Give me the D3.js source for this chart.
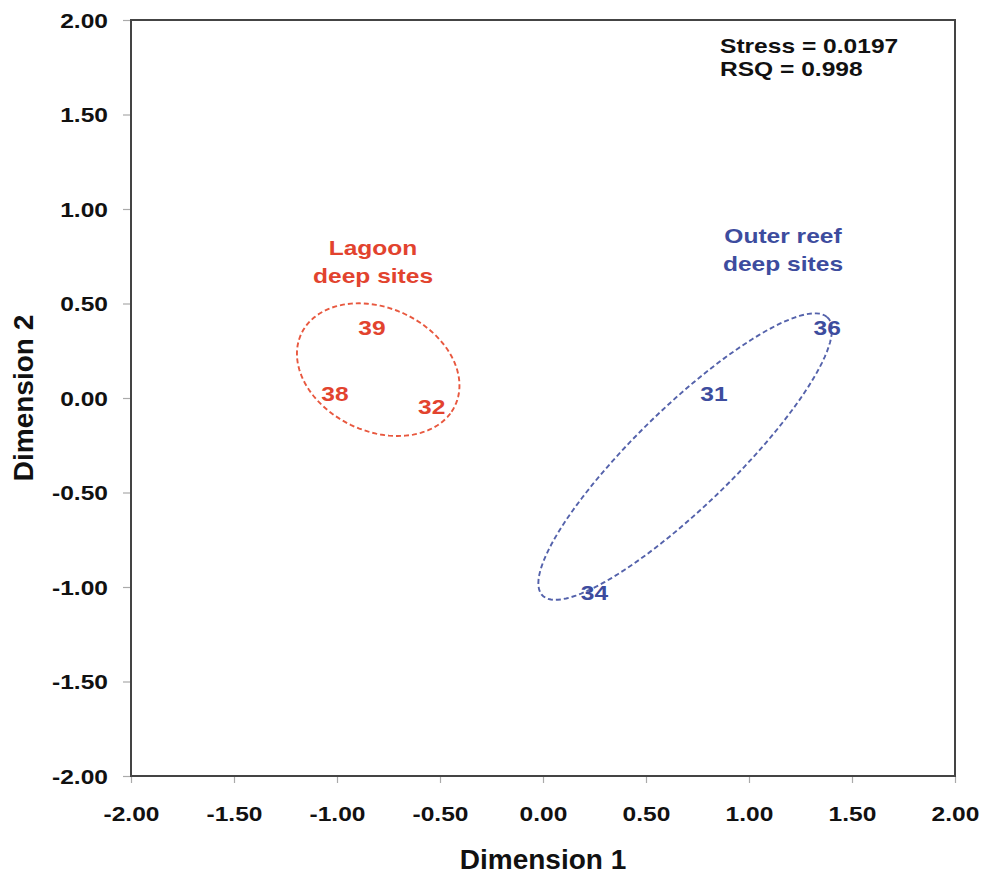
<!DOCTYPE html>
<html>
<head>
<meta charset="utf-8">
<script src="https://cdn.jsdelivr.net/npm/d3@7"></script>
<style>
  body { margin: 0; background: #fff; }
  text { font-family: "Liberation Sans", Arial, sans-serif; font-weight: bold; }
</style>
</head>
<body>
<div id="chart"></div>
<script>
// site scores from the MDS plot
var sites = ["39", "38", "32", "31", "36", "34"];
var dim1 = [-0.83, -1.01, -0.54, 0.83, 1.38, 0.25];
var dim2 = [0.37, 0.02, -0.05, 0.02, 0.37, -1.03];
var groupOf = ["lagoon", "lagoon", "lagoon", "outer", "outer", "outer"];

var tickValues = [-2, -1.5, -1, -0.5, 0, 0.5, 1, 1.5, 2];

// group ellipses (data units): centre, semi axes, angle in degrees
var groups = ["lagoon", "outer"];
var groupNames = [["Lagoon", "deep sites"], ["Outer reef", "deep sites"]];
var groupLabelPos = [[-0.825, 0.755], [1.165, 0.82]];
var ellCx = [-0.80, 0.69];
var ellCy = [0.15, -0.31];
var ellA = [0.42, 1.01];
var ellB = [0.32, 0.25];
var ellAngle = [-32, 47];

var statsText = ["Stress = 0.0197", "RSQ = 0.998"];

var colors = { lagoon: "#e2432e", outer: "#3d4c9e" };
var ellColors = { lagoon: "#e8583f", outer: "#5462ab" };

var svgWidth = 986, svgHeight = 877;
var margin = { top: 20, right: 31, bottom: 101, left: 131 };
var width = svgWidth - margin.left - margin.right;
var height = svgHeight - margin.top - margin.bottom;
var squeeze = 1.26; // the small labels in the figure are drawn wide
var fmt = d => d3.format(".2f")(d).replace("\u2212", "-");

var svg = d3.select("#chart").append("svg")
  .attr("width", svgWidth)
  .attr("height", svgHeight);

var g = svg.append("g")
  .attr("transform", `translate(${margin.left}, ${margin.top})`);

var x = d3.scaleLinear().domain([-2, 2]).range([0, width]);
var y = d3.scaleLinear().domain([-2, 2]).range([height, 0]);

// widen text horizontally around its anchor
function stretch(sel) {
  sel.each(function() {
    var t = d3.select(this);
    t.attr("x", (+t.attr("x") || 0) / squeeze)
      .attr("transform", `scale(${squeeze},1)`);
    t.selectAll("tspan").each(function() {
      var s = d3.select(this);
      s.attr("x", (+s.attr("x") || 0) / squeeze);
    });
  });
}

// axes
var xAxis = g.append("g")
  .attr("transform", `translate(0, ${height})`)
  .call(d3.axisBottom(x).tickValues(tickValues).tickFormat(fmt).tickSize(7).tickPadding(24));
var yAxis = g.append("g")
  .call(d3.axisLeft(y).tickValues(tickValues).tickFormat(fmt).tickSize(8).tickPadding(15));

[xAxis, yAxis].forEach(function(a) {
  a.select(".domain").remove();
  a.selectAll("line").attr("stroke", "#aaa").attr("stroke-width", 1.2);
  a.selectAll("text").attr("font-size", 19.5).attr("fill", "#111");
  stretch(a.selectAll("text"));
});
yAxis.selectAll("text").attr("dy", "0.36em");

// frame
g.append("rect")
  .attr("width", width)
  .attr("height", height)
  .attr("fill", "none")
  .attr("stroke", "#444")
  .attr("stroke-width", 2);

// axis titles
svg.append("text")
  .attr("x", margin.left + width / 2)
  .attr("y", 869)
  .attr("text-anchor", "middle")
  .attr("font-size", 28)
  .attr("fill", "#111")
  .text("Dimension 1");

svg.append("text")
  .attr("transform", `translate(33, ${margin.top + height / 2}) rotate(-90)`)
  .attr("text-anchor", "middle")
  .attr("font-size", 28)
  .attr("fill", "#111")
  .text("Dimension 2");

// ellipses
var line = d3.line().x(d => x(d[0])).y(d => y(d[1])).curve(d3.curveLinearClosed);
groups.forEach(function(grp, i) {
  var pts = [];
  var phi = ellAngle[i] * Math.PI / 180;
  for (var k = 0; k < 120; k++) {
    var t = k / 120 * 2 * Math.PI;
    var ex = ellA[i] * Math.cos(t), ey = ellB[i] * Math.sin(t);
    pts.push([ellCx[i] + ex * Math.cos(phi) - ey * Math.sin(phi),
              ellCy[i] + ex * Math.sin(phi) + ey * Math.cos(phi)]);
  }
  g.append("path")
    .attr("d", line(pts))
    .attr("fill", "none")
    .attr("stroke", ellColors[grp])
    .attr("stroke-width", 1.9)
    .attr("stroke-dasharray", "5,3");

  var lbl = g.append("text")
    .attr("x", x(groupLabelPos[i][0]))
    .attr("y", y(groupLabelPos[i][1]))
    .attr("text-anchor", "middle")
    .attr("font-size", 19.5)
    .attr("fill", colors[grp]);
  groupNames[i].forEach(function(s, j) {
    lbl.append("tspan")
      .attr("x", x(groupLabelPos[i][0]))
      .attr("dy", j === 0 ? 0 : 27.5)
      .text(s);
  });
  stretch(lbl);
});

// site labels
var siteLabels = g.selectAll(".site")
  .data(sites)
  .enter()
  .append("text")
  .attr("class", "site")
  .attr("x", (d, i) => x(dim1[i]))
  .attr("y", (d, i) => y(dim2[i]))
  .attr("dy", "0.36em")
  .attr("text-anchor", "middle")
  .attr("font-size", 19.5)
  .attr("fill", (d, i) => colors[groupOf[i]])
  .text(d => d);
stretch(siteLabels);

// fit statistics
var stats = svg.selectAll(".stat")
  .data(statsText)
  .enter()
  .append("text")
  .attr("class", "stat")
  .attr("x", 720)
  .attr("y", (d, i) => 53 + i * 23)
  .attr("font-size", 19.5)
  .attr("fill", "#111")
  .text(d => d);
stretch(stats);
</script>
</body>
</html>
